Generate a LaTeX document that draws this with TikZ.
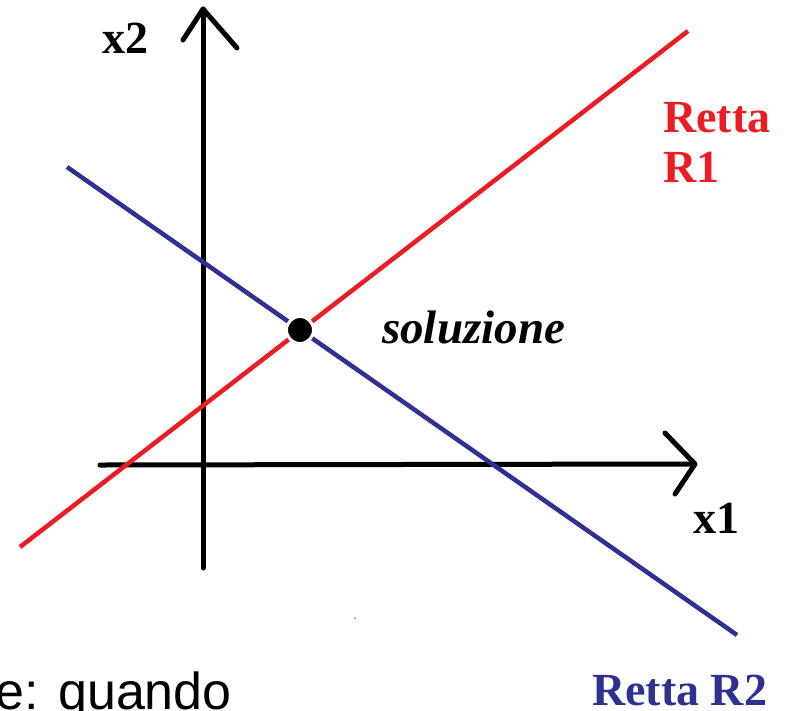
\documentclass[tikz,border=0pt]{standalone}
\usepackage{fontspec}
\setmainfont{Liberation Serif}
\newfontfamily\arialfont{Liberation Sans}
\definecolor{rred}{RGB}{237,28,36}
\definecolor{rblue}{RGB}{46,49,146}
\begin{document}
\begin{tikzpicture}[x=1pt,y=-1pt,
  axisline/.style={line width=5pt,black,line cap=round,line join=round},
  retta/.style={line width=4.5pt},
  lbl/.style={anchor=base west,inner sep=0pt,font=\fontsize{46}{50}\selectfont\bfseries},
]
\useasboundingbox (0,0) rectangle (792,710);
\clip (0,0) rectangle (792,710);
% axes
\coordinate (yb) at (203,568);
\coordinate (yt) at (203,9);
\coordinate (ya1) at (183,40);
\coordinate (ya2) at (237,48);
\coordinate (xl) at (100,465);
\coordinate (xr) at (695,464);
\coordinate (xa1) at (665,433);
\coordinate (xa2) at (675,494);
\draw[axisline] (yb) -- (yt);
\draw[axisline] (ya1) -- (yt) -- (ya2);
\draw[axisline] (xl) -- (xr);
\draw[axisline] (xa1) -- (xr) -- (xa2);
% lines
\coordinate (r1a) at (20,547);
\coordinate (r1b) at (688,31);
\coordinate (r2a) at (67,167);
\coordinate (r2b) at (737,635);
\draw[retta,rred] (r1a) -- (r1b);
\draw[retta,rblue] (r2a) -- (r2b);
% solution point
\node[circle,fill=black,draw=white,line width=3pt,minimum size=27pt,inner sep=0pt] (sol) at (300,330) {};
% labels
\node[lbl] (lx2) at (102,53) {x2};
\node[lbl] (lx1) at (693,533) {x1};
\node[lbl,font=\fontsize{47}{50}\selectfont\bfseries\itshape] (lsol) at (382,343) {soluzione};
\node[lbl,text=rred] (lr1a) at (663,132) {Retta};
\node[lbl,text=rred] (lr1b) at (663,182) {R1};
\node[lbl,text=rblue] (lr2) at (592,705) {Retta R2};
\node[anchor=base east,inner sep=0pt,font=\arialfont\fontsize{52}{56}\selectfont] (lq) at (232,709) {e: quando};
% speck
\fill[gray] (355,618) circle (1pt);
\end{tikzpicture}
\end{document}
